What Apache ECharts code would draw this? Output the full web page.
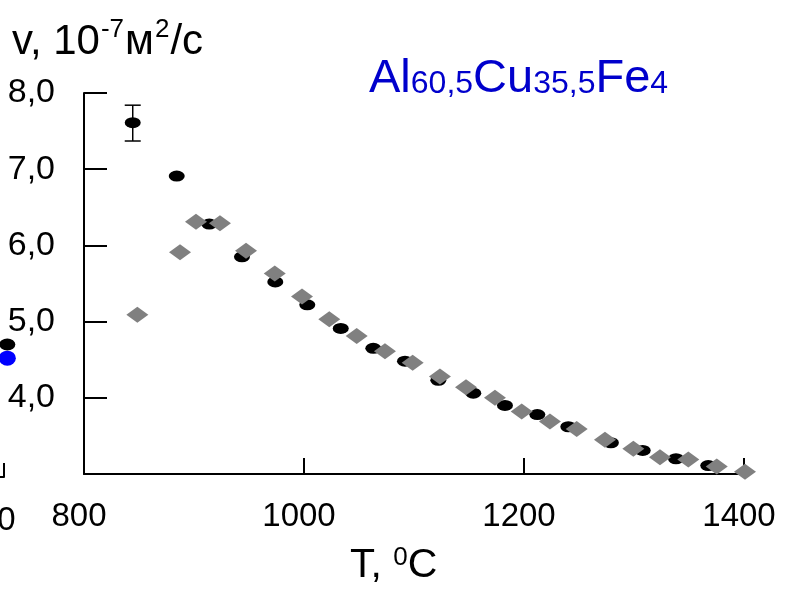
<!DOCTYPE html>
<html>
<head>
<meta charset="utf-8">
<script src="https://cdn.jsdelivr.net/npm/echarts@6/dist/echarts.min.js"></script>
<style>
html,body{margin:0;padding:0;background:#fff;}
#c{width:798px;height:591px;}
</style>
</head>
<body>
<div id="c"></div>
<script>
// Black circles (experiment 1)
const blackT = [844.3, 884.3, 913.9, 943.6, 973.9, 1003, 1033.4, 1063, 1091.8, 1122.1, 1153.9, 1182.7, 1212.1, 1240.3, 1279, 1307.9, 1338.2, 1367.5];
const blackV = [7.61, 6.91, 6.28, 5.85, 5.52, 5.22, 4.91, 4.65, 4.48, 4.23, 4.06, 3.90, 3.78, 3.62, 3.41, 3.31, 3.20, 3.11];
// Grey diamonds (experiment 2)
const grayT = [848.5, 887.3, 901.8, 923.6, 947.3, 973.4, 998.2, 1023, 1047.9, 1073.6, 1098.8, 1123.6, 1147.3, 1173.6, 1197.9, 1223.6, 1247.9, 1273.6, 1299.4, 1323.6, 1349.4, 1375.2, 1400.9];
const grayV = [5.09, 5.91, 6.31, 6.29, 5.93, 5.63, 5.33, 5.03, 4.81, 4.61, 4.46, 4.28, 4.14, 4.00, 3.82, 3.69, 3.59, 3.45, 3.33, 3.22, 3.19, 3.10, 3.03];
// Error bar on first black point
const errT = [844.3];
const errLow = [7.37];
const errHigh = [7.84];
// Cropped neighbouring panel (left edge)
const nbT = [1405];
const nbBlack = [4.74];
const nbBlue = [4.56];
// Axis ticks
const xTicks = [800, 1000, 1200, 1400];
const yTicks = [4, 5, 6, 7, 8];

const FONT = 'Liberation Sans, Arial, sans-serif';
const chart = echarts.init(document.getElementById('c'), null, {renderer: 'canvas'});

const zip = (a, b) => a.map((v, i) => [v, b[i]]);

chart.setOption({
  animation: false,
  backgroundColor: '#fff',
  title: [
    {
      text: '{a|v, 10}{s|-7}{a|м}{s|2}{a|/с}',
      left: 12, top: 17, padding: 0,
      textStyle: {
        fontFamily: FONT, fontSize: 42, fontWeight: 'normal',
        rich: {
          a: {fontFamily: FONT, fontSize: 42, lineHeight: 46, color: '#000', verticalAlign: 'bottom'},
          s: {fontFamily: FONT, fontSize: 26, color: '#000', verticalAlign: 'top', padding: [0, 1, 0, 1]}
        }
      }
    },
    {
      text: '{b|Al}{t|60,5}{b|Cu}{t|35,5}{b|Fe}{t|4}',
      left: 369, top: 56, padding: 0,
      textStyle: {
        fontFamily: FONT, fontSize: 47, fontWeight: 'normal',
        rich: {
          b: {fontFamily: FONT, fontSize: 47, color: '#0000cc', verticalAlign: 'bottom'},
          t: {fontFamily: FONT, fontSize: 32, color: '#0000cc', verticalAlign: 'bottom', padding: [0, 0, 3, 0]}
        }
      }
    },
    {
      text: '{a|T, }{s|0}{a|C}',
      left: 350, top: 545, padding: 0,
      textStyle: {
        fontFamily: FONT, fontSize: 41, fontWeight: 'normal',
        rich: {
          a: {fontFamily: FONT, fontSize: 41, color: '#000', verticalAlign: 'bottom'},
          s: {fontFamily: FONT, fontSize: 26, color: '#000', verticalAlign: 'top'}
        }
      }
    }
  ],
  grid: [
    {left: 84, top: 93, width: 660, height: 381, containLabel: false, outerBoundsMode: 'none'},
    {left: -396, top: 96, width: 400, height: 381, containLabel: false, outerBoundsMode: 'none'}
  ],
  xAxis: [
    {
      type: 'value', gridIndex: 0, min: 800, max: 1400, interval: 200,
      axisLine: {show: true, lineStyle: {color: '#000', width: 2}},
      axisTick: {show: true, inside: true, length: 16, customValues: xTicks, lineStyle: {color: '#000', width: 2}},
      axisLabel: {show: true, customValues: xTicks, fontFamily: FONT, fontSize: 33, color: '#000', margin: 26, padding: [0, 10, 0, 0], showMinLabel: true, showMaxLabel: true, formatter: v => String(v)},
      splitLine: {show: false}
    },
    {
      type: 'value', gridIndex: 1, min: 800, max: 1400, interval: 200,
      axisLine: {show: true, lineStyle: {color: '#000', width: 2}},
      axisTick: {show: true, inside: true, length: 14, customValues: [1400], lineStyle: {color: '#000', width: 2}},
      axisLabel: {show: true, customValues: [1400], fontFamily: FONT, fontSize: 33, color: '#000', margin: 27, padding: [0, 50, 0, 0], formatter: v => String(v)},
      splitLine: {show: false}
    }
  ],
  yAxis: [
    {
      type: 'value', gridIndex: 0, min: 3, max: 8, interval: 1,
      axisLine: {show: true, lineStyle: {color: '#000', width: 2}},
      axisTick: {show: true, inside: true, length: 23, customValues: yTicks, lineStyle: {color: '#000', width: 2}},
      axisLabel: {
        show: true, customValues: yTicks, fontFamily: FONT, fontSize: 34, color: '#000', margin: 29,
        padding: [4, 0, 0, 0],
        formatter: v => v.toFixed(1).replace('.', ',')
      },
      splitLine: {show: false}
    },
    {
      type: 'value', gridIndex: 1, min: 3, max: 8, interval: 1, show: false
    }
  ],
  series: [
    {
      type: 'custom', xAxisIndex: 0, yAxisIndex: 0, clip: false, z: 3,
      data: errT.map((t, i) => [t, errLow[i], errHigh[i]]),
      renderItem: function (params, api) {
        const lo = api.coord([api.value(0), api.value(1)]);
        const hi = api.coord([api.value(0), api.value(2)]);
        const w = 8;
        const st = {stroke: '#000', lineWidth: 1.5};
        return {
          type: 'group',
          children: [
            {type: 'line', shape: {x1: lo[0], y1: lo[1], x2: hi[0], y2: hi[1]}, style: st},
            {type: 'line', shape: {x1: lo[0] - w, y1: lo[1], x2: lo[0] + w, y2: lo[1]}, style: st},
            {type: 'line', shape: {x1: hi[0] - w, y1: hi[1], x2: hi[0] + w, y2: hi[1]}, style: st}
          ]
        };
      }
    },
    {
      type: 'scatter', xAxisIndex: 0, yAxisIndex: 0, clip: false, z: 4,
      symbol: 'circle', symbolSize: [16, 11],
      itemStyle: {color: '#000', opacity: 1},
      data: zip(blackT, blackV)
    },
    {
      type: 'scatter', xAxisIndex: 0, yAxisIndex: 0, clip: false, z: 5,
      symbol: 'diamond', symbolSize: [22, 16],
      itemStyle: {color: '#808080', opacity: 1},
      data: zip(grayT, grayV)
    },
    {
      type: 'scatter', xAxisIndex: 1, yAxisIndex: 1, clip: false, z: 4,
      symbol: 'circle', symbolSize: [16, 12],
      itemStyle: {color: '#000', opacity: 1},
      data: zip(nbT, nbBlack)
    },
    {
      type: 'scatter', xAxisIndex: 1, yAxisIndex: 1, clip: false, z: 5,
      symbol: 'circle', symbolSize: [17, 15],
      itemStyle: {color: '#0000ff', opacity: 1},
      data: zip(nbT, nbBlue)
    }
  ]
});
</script>
</body>
</html>
